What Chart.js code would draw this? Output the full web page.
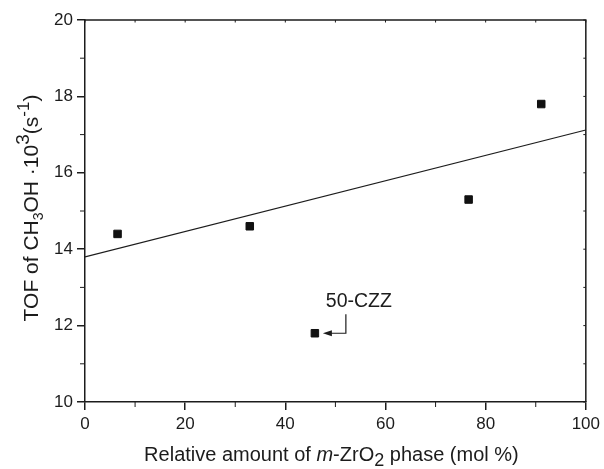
<!DOCTYPE html>
<html><head><meta charset="utf-8">
<script src="https://cdn.jsdelivr.net/npm/chart.js@4"></script>
<style>html,body{margin:0;padding:0;background:#fff}</style>
</head><body>
<canvas id="c" width="604" height="469"></canvas>
<script>
// ---- data ----
const phaseX = [6.5, 32.9, 45.9, 76.6, 91.1];
const tofY = [14.4, 14.6, 11.8, 15.3, 17.8];
const fitX = [0, 100];
const fitY = [13.8, 17.12];
const xTicks = [0, 20, 40, 60, 80, 100];
const yTicks = [10, 12, 14, 16, 18, 20];
const xMinorStep = 10;
const yMinorStep = 1;
const annotationLabel = '50-CZZ';
const annotatedIndex = 2;

const FONT = '"Liberation Sans", Arial, Helvetica, sans-serif';
const INK = '#1c1c1c';

const xTitle = [
  {t: 'Relative amount of '},
  {t: 'm', italic: true},
  {t: '-ZrO'},
  {t: '2', size: 18, dy: 5},
  {t: ' phase (mol %)'}
];
const yTitle = [
  {t: 'TOF of CH'},
  {t: '3', size: 14, dy: 5},
  {t: 'OH ·10'},
  {t: '3', size: 19, dy: -9},
  {t: '(s'},
  {t: '-1', size: 17, dy: -9},
  {t: ')'}
];

function drawRich(ctx, segs, baseSize) {
  const parts = segs.map(s => {
    const size = s.size || baseSize;
    const f = (s.italic ? 'italic ' : '') + size + 'px ' + FONT;
    ctx.font = f;
    return {t: s.t, f, w: ctx.measureText(s.t).width, dy: s.dy || 0};
  });
  const total = parts.reduce((a, p) => a + p.w, 0);
  let x = -total / 2;
  ctx.textAlign = 'left';
  ctx.textBaseline = 'alphabetic';
  for (const p of parts) {
    ctx.font = p.f;
    ctx.fillText(p.t, x, p.dy);
    x += p.w;
  }
}

const decor = {
  id: 'decor',
  afterDraw(chart) {
    const {ctx, chartArea: a, scales} = chart;
    const xs = scales.x, ys = scales.y;
    ctx.save();
    ctx.strokeStyle = INK;
    ctx.lineWidth = 1.5;
    // top and right frame
    ctx.beginPath();
    ctx.moveTo(a.left, a.top); ctx.lineTo(a.right, a.top); ctx.lineTo(a.right, a.bottom);
    ctx.stroke();
    // minor ticks outward, tiny ticks inward on top/right
    ctx.lineWidth = 1;
    ctx.beginPath();
    for (let v = xs.min; v <= xs.max + 1e-9; v += xMinorStep) {
      const px = xs.getPixelForValue(v);
      if (!xTicks.includes(v)) { ctx.moveTo(px, a.bottom); ctx.lineTo(px, a.bottom + 5); }
      ctx.moveTo(px, a.top); ctx.lineTo(px, a.top + 2.5);
    }
    for (let v = ys.min; v <= ys.max + 1e-9; v += yMinorStep) {
      const py = ys.getPixelForValue(v);
      if (!yTicks.includes(v)) { ctx.moveTo(a.left, py); ctx.lineTo(a.left - 5, py); }
      ctx.moveTo(a.right, py); ctx.lineTo(a.right - 2.5, py);
    }
    ctx.stroke();

    // annotation
    const px = xs.getPixelForValue(phaseX[annotatedIndex]);
    const py = ys.getPixelForValue(tofY[annotatedIndex]);
    ctx.strokeStyle = INK;
    ctx.fillStyle = INK;
    ctx.lineWidth = 1.2;
    ctx.beginPath();
    ctx.moveTo(px + 31, py - 19);
    ctx.lineTo(px + 31, py);
    ctx.lineTo(px + 15, py);
    ctx.stroke();
    ctx.beginPath();
    ctx.moveTo(px + 8, py);
    ctx.lineTo(px + 17, py - 3);
    ctx.lineTo(px + 17, py + 3);
    ctx.closePath();
    ctx.fill();
    ctx.font = '19.5px ' + FONT;
    ctx.textAlign = 'center';
    ctx.textBaseline = 'alphabetic';
    ctx.fillText(annotationLabel, px + 44, py - 26);

    // axis titles
    ctx.fillStyle = INK;
    ctx.save();
    ctx.translate((a.left + a.right) / 2 - 4, 461);
    drawRich(ctx, xTitle, 20);
    ctx.restore();
    ctx.save();
    ctx.translate(38, (a.top + a.bottom) / 2 - 3);
    ctx.rotate(-Math.PI / 2);
    drawRich(ctx, yTitle, 21);
    ctx.restore();
    ctx.restore();
  }
};

const axisCommon = {
  type: 'linear',
  grid: {drawOnChartArea: false, drawTicks: true, tickLength: 8, color: INK, lineWidth: 1.5},
  border: {display: true, color: INK, width: 1.5},
  ticks: {color: INK, font: {family: FONT, size: 17}, padding: 4},
  title: {display: false}
};

new Chart(document.getElementById('c'), {
  type: 'scatter',
  data: {
    datasets: [
      {
        label: 'TOF',
        data: phaseX.map((x, i) => ({x, y: tofY[i]})),
        pointStyle: 'rect',
        pointRadius: 5.3,
        pointBackgroundColor: '#111',
        pointBorderColor: '#111',
        pointBorderWidth: 1,
        showLine: false
      },
      {
        label: 'fit',
        data: fitX.map((x, i) => ({x, y: fitY[i]})),
        showLine: true,
        borderColor: INK,
        borderWidth: 1.2,
        pointRadius: 0,
        fill: false
      }
    ]
  },
  options: {
    responsive: false,
    animation: false,
    devicePixelRatio: 1,
    layout: {padding: {top: 20, right: 15, left: 0, bottom: 0}},
    plugins: {legend: {display: false}, tooltip: {enabled: false}},
    scales: {
      x: Object.assign({}, axisCommon, {
        min: 0, max: 100,
        afterBuildTicks: s => { s.ticks = xTicks.map(v => ({value: v})); },
        afterFit: s => { s.height = 67; }
      }),
      y: Object.assign({}, axisCommon, {
        min: 10, max: 20,
        afterBuildTicks: s => { s.ticks = yTicks.map(v => ({value: v})); },
        afterFit: s => { s.width = 85; }
      })
    }
  },
  plugins: [decor]
});
</script>
</body></html>
